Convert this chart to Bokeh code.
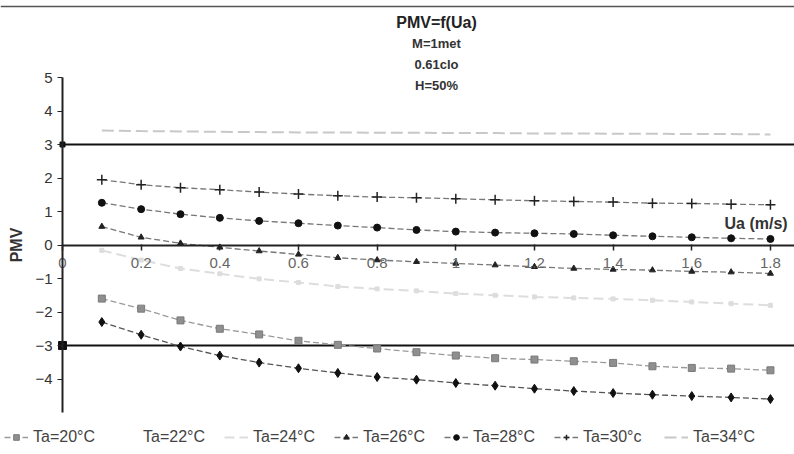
from bokeh.plotting import figure
from bokeh.models import Range1d, FixedTicker, Legend, LegendItem, Span
from bokeh.core.properties import value
from bokeh.embed import file_html
from bokeh.resources import INLINE

# ---------------- data ----------------
ua = [0.1, 0.2, 0.3, 0.4, 0.5, 0.6, 0.7, 0.8, 0.9, 1.0, 1.1, 1.2, 1.3, 1.4, 1.5, 1.6, 1.7, 1.8]

pmv_ta34 = [3.42, 3.40, 3.39, 3.38, 3.37, 3.36, 3.36, 3.35, 3.35, 3.34, 3.34, 3.33, 3.33, 3.32, 3.32, 3.31, 3.31, 3.30]
pmv_ta30 = [1.95, 1.80, 1.71, 1.65, 1.58, 1.52, 1.47, 1.43, 1.41, 1.38, 1.35, 1.32, 1.30, 1.28, 1.25, 1.24, 1.22, 1.20]
pmv_ta28 = [1.26, 1.07, 0.92, 0.81, 0.72, 0.65, 0.58, 0.52, 0.45, 0.40, 0.37, 0.35, 0.33, 0.29, 0.26, 0.23, 0.20, 0.18]
pmv_ta26 = [0.55, 0.23, 0.05, -0.07, -0.18, -0.28, -0.38, -0.45, -0.50, -0.55, -0.60, -0.65, -0.70, -0.73, -0.75, -0.79, -0.81, -0.85]
pmv_ta24 = [-0.16, -0.45, -0.70, -0.86, -1.01, -1.12, -1.24, -1.31, -1.37, -1.45, -1.50, -1.55, -1.58, -1.61, -1.65, -1.70, -1.75, -1.80]
pmv_ta20 = [-1.60, -1.90, -2.25, -2.50, -2.67, -2.86, -2.98, -3.09, -3.20, -3.30, -3.38, -3.42, -3.47, -3.52, -3.62, -3.67, -3.69, -3.74]
pmv_unlabelled = [-2.30, -2.68, -3.03, -3.30, -3.51, -3.68, -3.82, -3.94, -4.02, -4.12, -4.20, -4.29, -4.36, -4.42, -4.47, -4.51, -4.55, -4.60]

limit_x = [0.0, 1.9]
limit_upper = [3, 3]
limit_lower = [-3, -3]

x_ticks = [0, 0.2, 0.4, 0.6, 0.8, 1, 1.2, 1.4, 1.6, 1.8]
x_tick_labels = ["0", "0.2", "0.4", "0.6", "0.8", "1", "1.2", "1.4", "1.6", "1.8"]
y_ticks = [-4, -3, -2, -1, 0, 1, 2, 3, 4, 5]

title_main = "PMV=f(Ua)"
title_sub = ["M=1met", "0.61clo", "H=50%"]
x_title = "Ua (m/s)"
legend_labels = ["Ta=20°C", "Ta=22°C", "Ta=24°C", "Ta=26°C", "Ta=28°C", "Ta=30°c", "Ta=34°C"]

# ---------------- figure ----------------
W, H = 794, 454
x0_px, xs = 62.0, 393.3     # pixel of x=0, pixels per unit
y5_px, ys = 77.0, 33.5      # pixel of y=5, pixels per unit
x_start = -x0_px / xs
x_end = (W - x0_px) / xs
y_top = 5 + y5_px / ys
y_bot = y_top - H / ys

p = figure(width=W, height=H, x_range=Range1d(x_start, x_end), y_range=Range1d(y_bot, y_top),
           output_backend="svg", toolbar_location=None, min_border=0,
           min_border_left=0, min_border_right=0, min_border_top=0, min_border_bottom=0)
p.outline_line_color = None
p.xgrid.visible = False
p.ygrid.visible = False
p.background_fill_color = "white"
p.border_fill_color = "white"

FONT = "Liberation Sans"

# axes
xa = p.xaxis[0]
xa.fixed_location = 0
xa.bounds = (0, x_end + 1)
xa.ticker = FixedTicker(ticks=x_ticks)
xa.major_label_overrides = {t: l for t, l in zip(x_ticks, x_tick_labels)}
xa.minor_tick_line_color = None
xa.major_tick_out = 5
xa.major_tick_in = 1
xa.axis_line_color = "#222222"
xa.axis_line_width = 2
xa.major_tick_line_color = "#222222"
xa.major_tick_line_width = 1.5
xa.major_label_text_font = FONT
xa.major_label_text_font_size = "15px"
xa.major_label_text_color = "#666666"
xa.major_label_standoff = 8

ya = p.yaxis[0]
ya.fixed_location = 0
ya.bounds = (-5, 5)
ya.ticker = FixedTicker(ticks=y_ticks)
ya.minor_tick_line_color = None
ya.major_tick_out = 5
ya.major_tick_in = 0
ya.axis_line_color = "#222222"
ya.axis_line_width = 2
ya.major_tick_line_color = "#222222"
ya.major_label_text_font = FONT
ya.major_label_text_font_size = "15px"
ya.major_label_text_color = "#333333"
ya.major_label_standoff = 5
ya.axis_label = "PMV"
ya.axis_label_text_font = FONT
ya.axis_label_text_font_style = "bold"
ya.axis_label_text_font_size = "16px"
ya.axis_label_text_color = "#333333"
ya.axis_label_standoff = 7

# top frame border
p.add_layout(Span(location=y_top - 6 / ys, dimension="width", line_color="#555555", line_width=1.5))

# comfort limits
p.line(limit_x, limit_upper, line_color="#111111", line_width=2)
p.line(limit_x, limit_lower, line_color="#111111", line_width=2)
p.scatter(limit_x[:1], limit_upper[:1], marker="square", size=5, color="#111111")
p.scatter(limit_x[:1], limit_lower[:1], marker="square", size=8, color="#111111")

DASH = "6 3"
# series
r34 = p.line(ua, pmv_ta34, line_color="#c8c8c8", line_width=2, line_dash="12 5")

r30l = p.line(ua, pmv_ta30, line_color="#777777", line_width=1.3, line_dash=DASH)
r30m = p.scatter(ua, pmv_ta30, marker="cross", size=10, line_color="#222222", line_width=1.5)

r28l = p.line(ua, pmv_ta28, line_color="#777777", line_width=1.3, line_dash=DASH)
r28m = p.scatter(ua, pmv_ta28, marker="circle", size=7, color="#111111")

r26l = p.line(ua, pmv_ta26, line_color="#777777", line_width=1.3, line_dash=DASH)
r26m = p.scatter(ua, pmv_ta26, marker="triangle", size=6, color="#222222")

r24l = p.line(ua, pmv_ta24, line_color="#dddddd", line_width=2, line_dash="10 5")
r24m = p.scatter(ua, pmv_ta24, marker="square", size=4, color="#dddddd")

r20l = p.line(ua, pmv_ta20, line_color="#9a9a9a", line_width=1.3, line_dash=DASH)
r20m = p.scatter(ua, pmv_ta20, marker="square", size=7, fill_color="#8f8f8f", line_color="#7a7a7a")

rul = p.line(ua, pmv_unlabelled, line_color="#555555", line_width=1.3, line_dash=DASH)
rum = p.scatter(ua, pmv_unlabelled, marker="diamond", size=9, color="#111111")

# legend-only renderer for the (invisible) Ta=22 series
r22 = p.line(x=[], y=[], line_color="#ececec", line_width=2)

# titles
tx = (436 - x0_px) / xs
ty_main = y_top - 22 / ys
ty_sub = [y_top - 43 / ys, y_top - 64 / ys, y_top - 85 / ys]
p.text(x=[tx], y=[ty_main], text=[title_main], text_align="center", text_baseline="middle",
       text_font=value(FONT), text_font_style="bold", text_font_size="16px", text_color="#222222")
p.text(x=[tx] * 3, y=ty_sub, text=title_sub, text_align="center", text_baseline="middle",
       text_font=value(FONT), text_font_style="bold", text_font_size="13px", text_color="#333333")

# x-axis title at the right end of the axis
p.text(x=[(724 - x0_px) / xs], y=[(y_top - 223 / ys)], text=[x_title], text_align="left",
       text_baseline="middle", text_font=value(FONT), text_font_style="bold", text_font_size="16px",
       text_color="#333333")

legend = Legend(items=[
    LegendItem(label=legend_labels[0], renderers=[r20l, r20m]),
    LegendItem(label=legend_labels[1], renderers=[r22]),
    LegendItem(label=legend_labels[2], renderers=[r24l]),
    LegendItem(label=legend_labels[3], renderers=[r26l, r26m]),
    LegendItem(label=legend_labels[4], renderers=[r28l, r28m]),
    LegendItem(label=legend_labels[5], renderers=[r30l, r30m]),
    LegendItem(label=legend_labels[6], renderers=[r34]),
], orientation="horizontal", location=(4, 8))
legend.label_text_font = FONT
legend.label_text_font_size = "16px"
legend.label_text_color = "#444444"
legend.glyph_width = 24
legend.glyph_height = 14
legend.label_standoff = 5
legend.label_width = 78
legend.spacing = 3
legend.padding = 0
legend.margin = 0
legend.background_fill_alpha = 0
legend.border_line_color = None
p.add_layout(legend)

open("out.html", "w").write(file_html(p, INLINE))
